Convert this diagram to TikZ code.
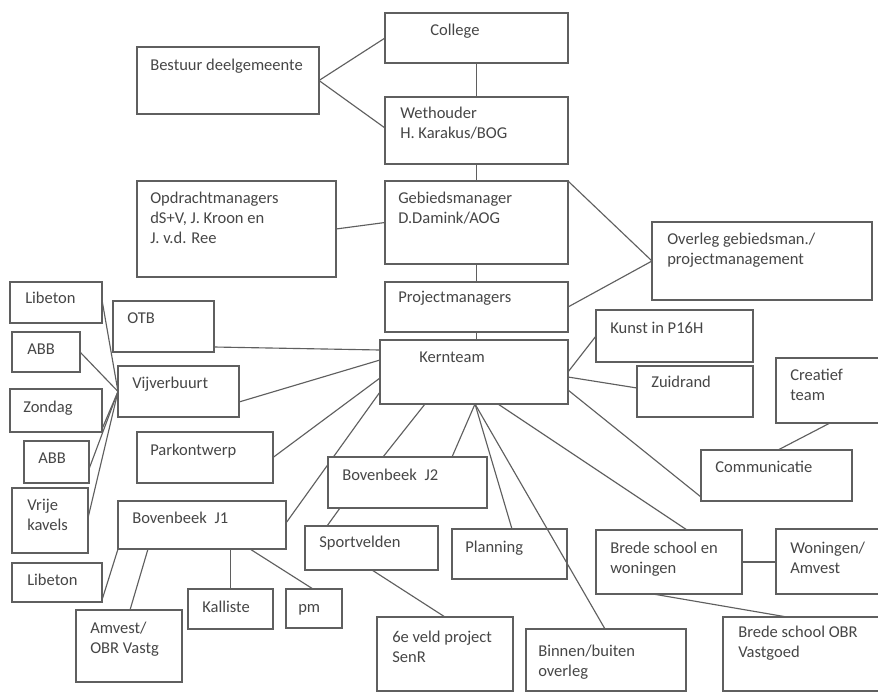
\documentclass[tikz,border=0pt]{standalone}
\usepackage{fontspec}
\setmainfont{Carlito}
\usetikzlibrary{calc,backgrounds}
\definecolor{ln}{RGB}{95,95,95}
\definecolor{tx}{RGB}{70,70,70}
\tikzset{
  box/.style={draw=ln, line width=0.85pt, rectangle, inner sep=0pt, outer sep=0pt},
  lbl/.style={anchor=base west, inner sep=0pt, align=left, text=tx,
    font=\fontsize{12.4}{15}\selectfont},
  con/.style={draw=ln, line width=0.85pt}
}
% x1 y1 x2 y2 textx baseline-of-last-line text name
\newcommand\mkbox[9][]{%
  \node[box,#1, minimum width={(#4-#2)*0.75pt}, minimum height={(#5-#3)*0.75pt}] (#9) at ({(#2+#4)/2},{(#3+#5)/2}) {};
  \node[lbl] (#9-t) at (#6,#7) {#8};
}
\begin{document}
\begin{tikzpicture}[x=0.75pt,y=-0.75pt]
\useasboundingbox (0,0) rectangle (878,693);
\clip (0,0) rectangle (878,693);
\mkbox{137}{47}{319}{114}{150}{70}{Bestuur deelgemeente}{bestuur}
\mkbox{385}{13}{568}{63}{430}{35}{College}{college}
\mkbox{385}{97}{568}{164}{400}{138}{Wethouder\\H. Karakus/BOG}{wethouder}
\mkbox{137}{181}{336}{277}{150}{243}{Opdrachtmanagers\\dS+V, J. Kroon en\\J. v.d. Ree}{opdracht}
\mkbox{385}{181}{568}{264}{398}{223}{Gebiedsmanager\\D.Damink/AOG}{gebieds}
\mkbox{385}{282}{568}{332}{398}{302}{Projectmanagers}{projm}
\mkbox{652}{222}{872}{300}{667}{264}{Overleg gebiedsman./\\projectmanagement}{overleg}
\mkbox{380}{340}{568}{404}{419}{362}{Kernteam}{kern}
\mkbox{10}{282}{102}{323}{25}{303}{Libeton}{libA}
\mkbox{113}{301}{214}{352}{127}{323}{OTB}{otb}
\mkbox{12}{332}{80}{372}{27}{354}{ABB}{abbA}
\mkbox{118}{366}{239}{417}{132}{388}{Vijverbuurt}{vijver}
\mkbox{10}{389}{102}{432}{23}{412}{Zondag}{zondag}
\mkbox{24}{441}{89}{483}{38}{463}{ABB}{abbB}
\mkbox{12}{488}{88}{553}{27}{530}{Vrije\\kavels}{vrije}
\mkbox{137}{432}{273}{483}{150}{455}{Parkontwerp}{park}
\mkbox[fill=white]{328}{457}{487}{508}{342}{480}{Bovenbeek\hspace{0.25em} J2}{jtwo}
\mkbox{118}{501}{286}{549}{132}{523}{Bovenbeek\hspace{0.25em} J1}{jone}
\mkbox{305}{526}{438}{570}{319}{547}{Sportvelden}{sport}
\mkbox{12}{563}{102}{602}{27}{585}{Libeton}{libB}
\mkbox{76}{610}{182}{682}{90}{653}{Amvest/\\OBR Vastg}{amvest}
\mkbox{188}{589}{273}{629}{202}{612}{Kalliste}{kalliste}
\mkbox{286}{589}{342}{628}{298}{612}{pm}{pm}
\mkbox{377}{617}{513}{691}{392}{662}{6e veld project\\SenR}{veld}
\mkbox{452}{529}{567}{579}{465}{552}{Planning}{planning}
\mkbox{526}{629}{686}{691}{538}{676}{Binnen/buiten\\overleg}{binnen}
\mkbox{596}{530}{742}{594}{610}{573}{Brede school en\\woningen}{brede}
\mkbox{776}{529}{890}{594}{790}{573}{Woningen/\\Amvest}{woning}
\mkbox{723}{617}{890}{691}{738}{657}{Brede school OBR\\Vastgoed}{obr}
\mkbox{596}{310}{753}{362}{610}{333}{Kunst in P16H}{kunst}
\mkbox{637}{366}{753}{417}{651}{387}{Zuidrand}{zuid}
\mkbox{776}{358}{890}{423}{790}{400}{Creatief\\team}{creat}
\mkbox{701}{450}{852}{501}{715}{472}{Communicatie}{comm}
\begin{pgfonlayer}{background}
\fill[white] (0,0) rectangle (878,693);
\draw[con] (bestuur.east) -- (college.west);
\draw[con] (bestuur.east) -- ($(wethouder.north west)+(0,31)$);
\draw[con] (college.south) -- (wethouder.north);
\draw[con] (wethouder.south) -- (gebieds.north);
\draw[con] (opdracht.east) -- (gebieds.west);
\draw[con] (gebieds.north east) -- (overleg.west);
\draw[con] (projm.east) -- (overleg.west);
\draw[con] (gebieds.south) -- (projm.north);
\draw[con] (projm.south) -- (projm.south |- kern.north);
\draw[con] ($(otb.south east)+(0,-5)$) -- ($(kern.north west)+(0,10)$);
\draw[con] ($(vijver.south east)+(0,-15)$) -- ($(kern.north west)+(0,20)$);
\draw[con] (park.east) -- ($(kern.north west)+(0,38)$);
\draw[con] ($(kern.north west)+(0,52)$) -- ($(jone.north east)+(0,22)$);
\draw[con] ($(kern.south west)+(45,0)$) -- ($(jtwo.north west)+(55,0)$);
\draw[con] ($(kern.south west)+(95,0)$) -- ($(jtwo.north east)+(-35,0)$);
\draw[con] ($(kern.south west)+(95,0)$) -- ($(planning.north west)+(60,0)$);
\draw[con] ($(kern.south west)+(95,0)$) -- ($(binnen.north west)+(79,0)$);
\draw[con] ($(kern.south west)+(118,0)$) -- ($(brede.north west)+(91,0)$);
\draw[con] ($(kern.south east)+(0,-14)$) -- ($(comm.south west)+(0,-4)$);
\draw[con] ($(kern.north east)+(0,37)$) -- ($(zuid.north west)+(0,22)$);
\draw[con] ($(kern.north east)+(0,32)$) -- (kunst.west);
\draw[con] ($(creat.south west)+(54,0)$) -- ($(comm.north west)+(77,0)$);
\draw[con] (brede.east) -- (woning.west |- brede.east);
\draw[con] ($(brede.south west)+(57,0)$) -- ($(obr.north west)+(64,0)$);
\draw[con] ($(jtwo.south west)+(12,0)$) -- ($(sport.north west)+(22,0)$);
\draw[con] ($(sport.south west)+(67,0)$) -- ($(veld.north west)+(68,0)$);
\draw[con] (jone.south west) -- ($(libB.south east)+(0,-2)$);
\draw[con] ($(jone.south west)+(30,0)$) -- ($(amvest.north west)+(54,0)$);
\draw[con] (kalliste.north |- jone.south) -- (kalliste.north);
\draw[con] ($(jone.south west)+(132,0)$) -- ($(pm.north west)+(27,0)$);
\draw[con] ($(libA.north east)+(0,18)$) -- (vijver.west);
\draw[con] (abbA.east) -- (vijver.west);
\draw[con] ($(zondag.south east)+(0,-3)$) -- (vijver.west);
\draw[con] ($(abbB.north east)+(0,28)$) -- (vijver.west);
\draw[con] ($(vrije.north east)+(0,30)$) -- (vijver.west);
\end{pgfonlayer}
\end{tikzpicture}
\end{document}
